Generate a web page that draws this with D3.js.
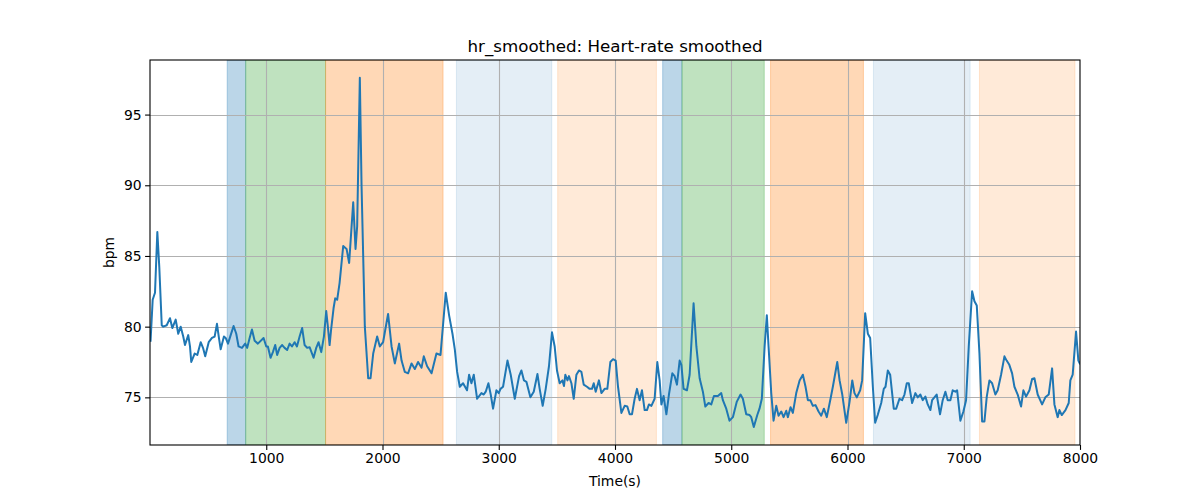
<!DOCTYPE html>
<html>
<head>
<meta charset="utf-8">
<script src="https://cdn.jsdelivr.net/npm/d3@7"></script>
<style>
  html, body { margin: 0; padding: 0; background: #fff; }
  svg { display: block; font-family: "DejaVu Sans", sans-serif; }
</style>
</head>
<body>
<svg id="chart" width="1200" height="500"></svg>
<script>
// ---- data ----
const titleText = "hr_smoothed: Heart-rate smoothed";
const xLabel = "Time(s)";
const yLabel = "bpm";
const xTicks = [1000, 2000, 3000, 4000, 5000, 6000, 7000, 8000];
const yTicks = [75, 80, 85, 90, 95];

const times = [5,23,43,63,80,101,114,144,172,192,221,243,264,286,301,329,344,355,384,407,436,456,475,505,533,556,576,593,608,636,651,671,694,719,742,762,791,819,836,857,877,900,928,977,1000,1014,1037,1057,1077,1094,1115,1137,1158,1180,1201,1221,1244,1264,1287,1309,1330,1352,1373,1407,1430,1450,1473,1496,1516,1530,1545,1558,1579,1593,1610,1631,1662,1691,1713,1748,1768,1782,1805,1820,1848,1877,1897,1920,1954,1977,2005,2048,2078,2106,2143,2164,2192,2220,2250,2278,2306,2336,2355,2384,2422,2464,2499,2544,2573,2602,2622,2642,2665,2693,2727,2745,2765,2785,2814,2851,2871,2888,2911,2931,2951,2980,3000,3015,3037,3075,3103,3138,3175,3195,3217,3238,3272,3301,3333,3352,3378,3404,3432,3458,3481,3501,3524,3548,3561,3573,3591,3604,3625,3645,3668,3690,3711,3731,3759,3782,3802,3817,3834,3862,3883,3911,3934,3960,3983,4006,4026,4055,4083,4106,4126,4146,4169,4189,4212,4232,4255,4275,4292,4313,4341,4364,4384,4399,4418,4442,4464,4493,4513,4533,4556,4571,4590,4619,4642,4676,4700,4728,4756,4777,4805,4828,4851,4885,4914,4928,4957,4985,5014,5048,5080,5100,5129,5158,5172,5194,5224,5243,5263,5287,5306,5321,5344,5364,5387,5407,5430,5450,5473,5487,5510,5530,5559,5588,5616,5639,5659,5680,5702,5725,5751,5774,5797,5822,5854,5874,5912,5932,5955,5989,6018,6041,6060,6080,6109,6126,6152,6175,6195,6218,6238,6260,6290,6312,6327,6347,6367,6398,6419,6447,6470,6490,6510,6527,6556,6584,6604,6627,6647,6670,6690,6713,6728,6767,6796,6819,6842,6862,6885,6905,6928,6943,6971,6997,7020,7043,7072,7092,7112,7135,7158,7178,7198,7221,7244,7272,7292,7321,7350,7369,7392,7416,7436,7464,7493,7513,7536,7565,7588,7608,7636,7674,7702,7731,7760,7780,7808,7823,7843,7875,7903,7917,7937,7966,7986,7998];
const bpm = [79.0,81.9,82.4,86.7,84.2,80.1,80.0,80.1,80.6,79.9,80.5,79.5,80.0,79.3,78.7,79.4,78.6,77.5,78.1,78.0,78.9,78.5,77.9,78.9,79.2,79.3,80.2,79.2,78.4,79.3,79.2,78.8,79.4,80.05,79.5,78.6,78.5,78.8,78.5,79.2,79.8,79.0,78.8,79.2,78.6,78.6,77.8,78.2,78.7,78.0,78.5,78.7,78.5,78.35,78.8,78.6,78.9,78.6,79.3,79.9,78.7,78.5,78.55,77.8,78.5,78.9,78.2,79.3,81.1,80.0,78.7,79.8,81.3,82.0,81.9,83.1,85.7,85.5,84.5,88.8,85.5,87.1,97.6,89.9,80.0,76.35,76.35,78.1,79.3,78.6,78.9,80.9,78.6,77.4,78.8,77.6,76.8,76.7,77.4,77.0,77.5,77.1,77.9,77.2,76.7,78.1,78.0,82.4,80.8,79.5,78.4,76.8,75.75,76.0,75.5,76.6,76.0,76.6,74.9,75.3,75.2,75.4,76.0,75.2,74.2,75.5,75.3,75.6,75.75,77.6,76.6,74.9,76.5,76.9,76.2,76.1,75.0,75.4,76.65,75.6,74.4,75.6,77.2,79.6,78.6,76.9,76.0,76.2,75.8,76.6,76.2,76.5,76.0,74.9,76.6,76.9,76.8,75.9,75.75,75.6,75.6,76.0,75.4,76.2,75.3,75.6,75.6,77.5,77.7,77.6,75.75,73.9,74.4,74.35,73.8,73.8,74.9,75.6,74.8,75.5,74.1,74.1,74.5,74.4,74.9,77.5,76.2,74.5,75.1,73.8,75.2,76.7,76.5,75.9,77.6,77.3,75.6,75.5,76.6,81.65,78.6,76.35,75.4,74.35,74.6,74.5,75.1,75.1,75.3,74.8,74.2,73.35,73.6,74.7,75.2,74.9,73.8,73.75,73.6,72.9,73.75,74.2,74.9,78.6,80.8,78.6,75.3,73.35,74.4,73.7,74.0,73.6,74.05,73.6,74.3,73.9,75.3,76.2,76.6,75.75,74.8,74.8,74.4,74.45,74.0,73.7,74.2,73.6,74.9,75.75,77.5,76.2,75.2,73.2,74.7,76.2,75.3,75.0,75.5,76.2,80.95,79.5,79.2,75.75,73.2,73.75,74.6,75.6,75.75,76.9,76.6,74.2,74.2,74.9,74.8,75.2,76.0,76.0,74.6,75.3,75.0,75.2,74.8,75.05,74.5,74.1,74.8,75.2,73.8,74.8,75.4,74.8,74.8,75.5,75.4,75.5,73.35,74.0,74.8,78.6,82.5,81.8,81.5,78.1,73.3,73.3,75.05,76.2,76.0,75.2,75.5,76.6,77.9,77.6,77.3,76.7,75.75,75.2,74.35,75.5,75.05,75.5,76.3,76.35,75.2,74.5,75.0,75.2,77.05,74.5,73.6,74.1,73.75,74.1,74.6,76.2,76.6,79.65,77.6,77.4];

// shaded phases
const spanStart = [664, 823, 1510, 2636, 3507, 4410, 4576, 5338, 6223, 7135];
const spanEnd   = [823, 1510, 2521, 3456, 4356, 4576, 5284, 6137, 7055, 7957];
const spanColor = ["#1f77b4", "#2ca02c", "#ff7f0e", "#1f77b4", "#ff7f0e", "#1f77b4", "#2ca02c", "#ff7f0e", "#1f77b4", "#ff7f0e"];
const spanAlpha = [0.3, 0.3, 0.3, 0.12, 0.16, 0.3, 0.3, 0.3, 0.12, 0.16];

// ---- drawing ----
const svg = d3.select("#chart");
const L = 150, R = 1080, T = 60, B = 445;
const x = d3.scaleLinear().domain([0, 8000]).range([L, R]);
const y = d3.scaleLinear().domain([71.63, 98.86]).range([B, T]);

svg.append("defs").append("clipPath").attr("id", "clip")
  .append("rect").attr("x", L).attr("y", T).attr("width", R - L).attr("height", B - T);

const plot = svg.append("g").attr("clip-path", "url(#clip)");

plot.selectAll("rect.span").data(spanStart.map((s, i) => i)).enter()
  .append("rect").attr("class", "span")
  .attr("x", i => x(spanStart[i]))
  .attr("y", T)
  .attr("width", i => x(spanEnd[i]) - x(spanStart[i]))
  .attr("height", B - T)
  .attr("fill", i => spanColor[i])
  .attr("fill-opacity", i => spanAlpha[i])
  .attr("stroke", i => spanColor[i])
  .attr("stroke-opacity", i => spanAlpha[i])
  .attr("stroke-width", 1);

// grid
plot.selectAll("line.vg").data(xTicks).enter().append("line")
  .attr("x1", d => Math.round(x(d)) + 0.5).attr("x2", d => Math.round(x(d)) + 0.5)
  .attr("y1", T).attr("y2", B)
  .attr("stroke", "#b0b0b0").attr("stroke-width", 1.1);
plot.selectAll("line.hg").data(yTicks).enter().append("line")
  .attr("y1", d => Math.round(y(d)) + 0.5).attr("y2", d => Math.round(y(d)) + 0.5)
  .attr("x1", L).attr("x2", R)
  .attr("stroke", "#b0b0b0").attr("stroke-width", 1.1);

// line
const line = d3.line().x((d, i) => x(times[i])).y((d, i) => y(bpm[i]));
plot.append("path").datum(bpm)
  .attr("d", line)
  .attr("fill", "none")
  .attr("stroke", "#1f77b4")
  .attr("stroke-width", 2)
  .attr("stroke-linejoin", "round")
  .attr("stroke-linecap", "square");

// axes
const xAxis = d3.axisBottom(x).tickValues(xTicks).tickSize(4.9).tickPadding(3.5).tickFormat(d3.format("d"));
const yAxis = d3.axisLeft(y).tickValues(yTicks).tickSize(4.9).tickPadding(3.5).tickFormat(d3.format("d"));
const gx = svg.append("g").attr("transform", `translate(0,${B})`).call(xAxis);
const gy = svg.append("g").attr("transform", `translate(${L},0)`).call(yAxis);
[gx, gy].forEach(g => {
  g.select(".domain").remove();
  g.selectAll("text").attr("font-family", "DejaVu Sans, sans-serif").attr("font-size", 13.9).attr("fill", "#000");
  g.selectAll("line").attr("stroke", "#000").attr("stroke-width", 1.1);
});

// spines
svg.append("rect").attr("x", L).attr("y", T).attr("width", R - L).attr("height", B - T)
  .attr("fill", "none").attr("stroke", "#000").attr("stroke-width", 1.1);

// labels
svg.append("text").attr("x", (L + R) / 2).attr("y", 52).attr("text-anchor", "middle")
  .attr("font-size", 16.7).text(titleText);
svg.append("text").attr("x", (L + R) / 2).attr("y", 486).attr("text-anchor", "middle")
  .attr("font-size", 13.9).text(xLabel);
svg.append("text").attr("transform", `translate(114,${(T + B) / 2}) rotate(-90)`).attr("text-anchor", "middle")
  .attr("font-size", 13.9).text(yLabel);
</script>
</body>
</html>
